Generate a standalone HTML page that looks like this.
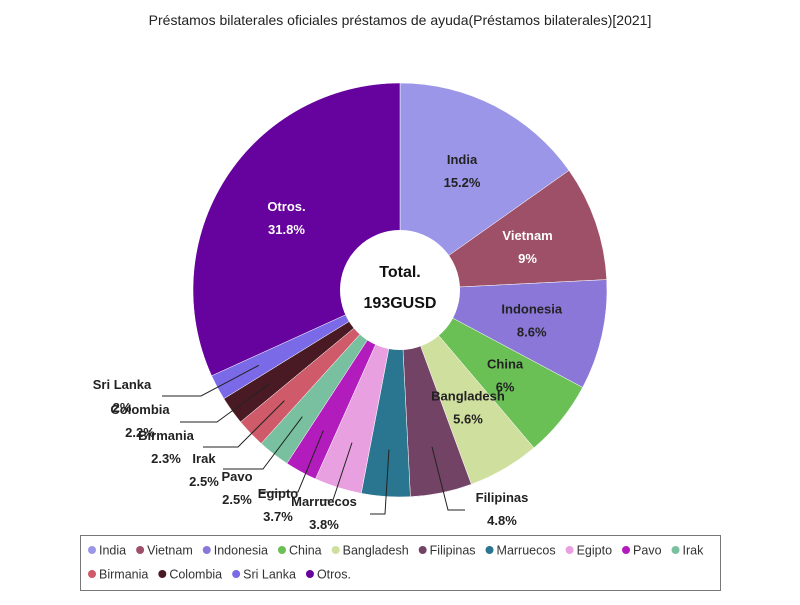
<!DOCTYPE html>
<html><head><meta charset="utf-8"><style>
body{margin:0;background:#fff;font-family:"Liberation Sans",sans-serif}
svg text{font-family:"Liberation Sans",sans-serif}
</style></head><body>
<svg id="c" width="800" height="600">
<text x="400" y="25" text-anchor="middle" font-size="14" fill="#222">Préstamos bilaterales oficiales préstamos de ayuda(Préstamos bilaterales)[2021]</text>
<g id="slices"></g><g id="labels"></g>
<circle cx="400" cy="290" r="60" fill="#fff"/>
<text x="400" y="277" text-anchor="middle" font-size="16" font-weight="bold" fill="#111">Total.</text>
<text x="400" y="308" text-anchor="middle" font-size="16" font-weight="bold" fill="#111">193GUSD</text>
<rect x="80.5" y="535.5" width="640" height="55" fill="#fff" stroke="#777"/>
<g id="legend"></g>
</svg>
<script>
const categories=["India","Vietnam","Indonesia","China","Bangladesh","Filipinas","Marruecos","Egipto","Pavo","Irak","Birmania","Colombia","Sri Lanka","Otros."];
const values=[15.2,9,8.6,6,5.6,4.8,3.8,3.7,2.5,2.5,2.3,2.2,2,31.8];
const pctLabels=["15.2%","9%","8.6%","6%","5.6%","4.8%","3.8%","3.7%","2.5%","2.5%","2.3%","2.2%","2%","31.8%"];
const colors=["#9b96e8","#9e5068","#8a77d8","#6abf55","#cfdf9e","#734366","#2a7590","#e9a0e0","#b21cbc","#78c0a0","#cf5a6a","#4a1a24","#7a6ae8","#66039e"];
const NS="http://www.w3.org/2000/svg",cx=400,cy=290,R=207;
function pt(a,r){return [cx+r*Math.sin(a),cy-r*Math.cos(a)];}
const total=values.reduce((a,b)=>a+b,0);
const sg=document.getElementById('slices'),lg=document.getElementById('labels');
// outside label layout: [nameX,nameY,elbowX,elbowY,endX]
const outside={5:[502,502,448,510,465],6:[324,506,385,514,370],7:[278,498,333,500,320],8:[237,481,298,492,260],9:[204,463,263,469,223],10:[166,440,238,447,203],11:[140,414,217,422,180],12:[122,389,201,396,162]};
let acc=0;
values.forEach((v,i)=>{
 const a0=acc/total*2*Math.PI; acc+=v; const a1=acc/total*2*Math.PI;
 const p0=pt(a0,R),p1=pt(a1,R),large=(a1-a0)>Math.PI?1:0;
 const p=document.createElementNS(NS,'path');
 p.setAttribute('d',`M${cx},${cy}L${p0[0]},${p0[1]}A${R},${R} 0 ${large} 1 ${p1[0]},${p1[1]}Z`);
 p.setAttribute('fill',colors[i]);p.setAttribute('stroke','#fff');p.setAttribute('stroke-width','0.5');
 
 
 sg.appendChild(p);
 const am=(a0+a1)/2;
 const mk=(x,y,s,col,nm)=>{const t=document.createElementNS(NS,'text');t.setAttribute('x',x);t.setAttribute('y',y);t.setAttribute('text-anchor','middle');t.setAttribute('font-size','13');t.setAttribute('font-weight','bold');t.setAttribute('fill',col);t.textContent=s;
  
  
  lg.appendChild(t);};
 if(outside[i]){
  const o=outside[i],s=pt(am,160);
  const l=document.createElementNS(NS,'polyline');
  l.setAttribute('points',`${s[0]},${s[1]} ${o[2]},${o[3]} ${o[4]},${o[3]}`);
  l.setAttribute('fill','none');l.setAttribute('stroke','#222');l.setAttribute('stroke-width','1');
  
  
  lg.appendChild(l);
  mk(o[0],o[1],categories[i],'#222','slice-label');mk(o[0],o[1]+23,pctLabels[i],'#222','slice-percent');
 } else {
  const c=pt(am,135),col=(i==13||i==1)?'#fff':'#222';
  mk(c[0],c[1]-6,categories[i],col,'slice-label');mk(c[0],c[1]+17,pctLabels[i],col,'slice-percent');
 }
});
const lgd=document.getElementById('legend');
let lx=88,ly=550;
categories.forEach((c,i)=>{
 if(i==10){lx=88;ly=574;}
 const g=document.createElementNS(NS,'g');
 
 
 const d=document.createElementNS(NS,'circle');d.setAttribute('cx',lx+4);d.setAttribute('cy',ly);d.setAttribute('r',4);d.setAttribute('fill',colors[i]);g.appendChild(d);
 const t=document.createElementNS(NS,'text');t.setAttribute('x',lx+11);t.setAttribute('y',ly+4.5);t.setAttribute('font-size','12.5');t.setAttribute('fill','#333');t.textContent=c;g.appendChild(t);
 lgd.appendChild(g);
 lx+=11+t.getComputedTextLength()+10;
});
</script>
</body></html>
